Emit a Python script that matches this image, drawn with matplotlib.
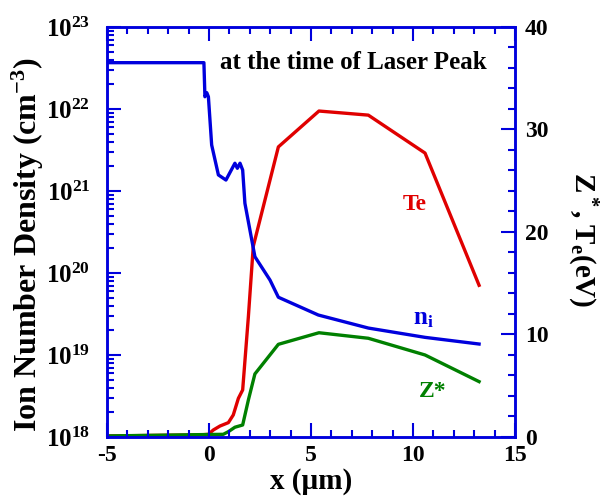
import matplotlib
matplotlib.use("Agg")
import matplotlib.pyplot as plt
from matplotlib.ticker import MultipleLocator, LogLocator, NullFormatter

plt.rcParams['font.family'] = 'Liberation Serif'
plt.rcParams['font.weight'] = 'bold'
plt.rcParams['axes.labelweight'] = 'bold'
plt.rcParams['axes.unicode_minus'] = False
plt.rcParams['mathtext.fontset'] = 'custom'
plt.rcParams['mathtext.rm'] = 'Liberation Serif:bold'
plt.rcParams['mathtext.it'] = 'Liberation Serif:bold'
plt.rcParams['mathtext.bf'] = 'Liberation Serif:bold'

# ion number density (cm^-3)
x_ni = [-5.0, -0.25, -0.20, -0.11, -0.03, 0.13, 0.46, 0.83, 1.27, 1.39, 1.52, 1.65,
        1.76, 2.25, 2.99, 3.40, 5.36, 7.81, 10.59, 13.24]
ni = [3.67e22, 3.67e22, 1.41e22, 1.58e22, 1.41e22, 3.64e21, 1.57e21, 1.36e21, 2.18e21,
      1.89e21, 2.18e21, 1.80e21, 7.08e20, 1.58e20, 8.2e19, 5.06e19, 3.07e19, 2.13e19,
      1.64e19, 1.36e19]

# electron temperature (eV)
x_te = [-5.0, -0.44, -0.03, 0.21, 0.54, 0.95, 1.19, 1.44, 1.65, 1.93, 2.17, 3.40,
        5.39, 7.81, 10.59, 13.24]
te = [0.1, 0.2, 0.26, 0.68, 1.07, 1.4, 2.15, 3.77, 4.59, 11.74, 18.6, 28.3,
      31.8, 31.4, 27.7, 14.8]

# average ionization Z*
x_z = [-5.0, 0.70, 0.95, 1.27, 1.65, 1.93, 2.25, 3.40, 5.39, 7.81, 10.59, 13.24]
zstar = [0.1, 0.26, 0.52, 0.95, 1.17, 3.61, 6.15, 9.04, 10.17, 9.63, 8.0, 5.4]

blue = '#0000dd'
red = '#e00000'
green = '#008000'

fig = plt.figure(figsize=(6.06, 4.96), dpi=100)
ax = fig.add_axes([0.1766, 0.1190, 0.6732, 0.8266])
ax2 = ax.twinx()

ax2.plot(x_te, te, color=red, lw=2.4)
ax2.plot(x_z, zstar, color=green, lw=2.4)
ax.plot(x_ni, ni, color=blue, lw=2.4)
ax.set_zorder(ax2.get_zorder() + 1)
ax.patch.set_visible(False)

ax.set_yscale('log')
ax.set_xlim(-5, 15)
ax.set_ylim(1e18, 1e23)
ax2.set_ylim(0, 40)

for a in (ax, ax2):
    for sp in a.spines.values():
        sp.set_color(blue)
        sp.set_linewidth(1.8)

ax.xaxis.set_major_locator(MultipleLocator(5))
ax.xaxis.set_minor_locator(MultipleLocator(1))
ax.yaxis.set_major_locator(LogLocator(base=10, numticks=10))
ax.yaxis.set_minor_locator(LogLocator(base=10, subs=range(2, 10), numticks=10))
ax.yaxis.set_minor_formatter(NullFormatter())
ax2.yaxis.set_major_locator(MultipleLocator(10))
ax2.yaxis.set_minor_locator(MultipleLocator(2))

ax.tick_params(axis='x', which='both', direction='in', top=True, color=blue, width=1.5,
               labelsize=17, pad=6)
ax.tick_params(axis='y', which='both', direction='in', right=False, color=blue, width=1.5,
               labelsize=18, pad=12)
ax2.tick_params(axis='y', which='both', direction='in', color=blue, width=1.5,
                labelsize=17, pad=7)
for a in (ax, ax2):
    a.tick_params(which='major', length=10)
    a.tick_params(which='minor', length=5)

ax.set_xlabel('x (\u00b5m)', fontsize=21, labelpad=1)
ax.set_ylabel('Ion Number Density (cm$^{-3}$)', fontsize=23)
ax.yaxis.set_label_coords(-0.15, 0.47)
ax2.set_ylabel('Z$^*$, T$_e$(eV)', fontsize=21, rotation=270, va='center')
ax2.yaxis.set_label_coords(1.165, 0.48)

ax.text(0.55, 3.7e22, 'at the time of Laser Peak', fontsize=18, va='center', ha='left')
ax.text(9.5, 6.8e20, 'Te', color=red, fontsize=17, ha='left', va='center')
ax.text(10.0, 2.8e19, 'n$_\\mathregular{i}$', color=blue, fontsize=18, ha='left', va='center')
ax.text(10.3, 3.6e18, 'Z*', color=green, fontsize=17, ha='left', va='center')

fig.savefig('out.png', dpi=100)
